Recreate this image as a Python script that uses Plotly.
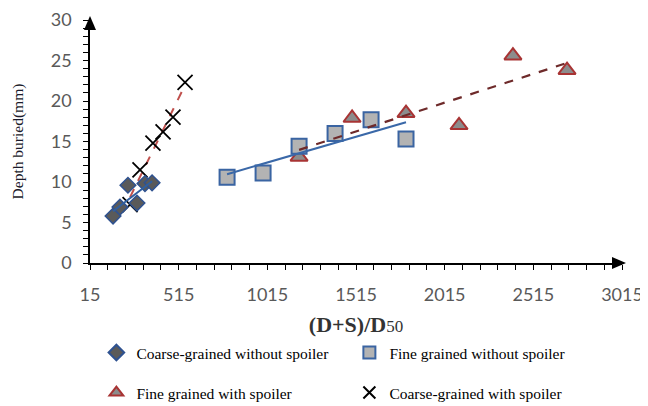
import numpy as np
import plotly.graph_objects as go

# ---- data ----
coarse_no_x = [145, 184, 229, 280, 325, 365]
coarse_no_y = [5.8, 6.9, 9.6, 7.4, 9.8, 9.9]

fine_no_x = [788, 991, 1194, 1397, 1600, 1797]
fine_no_y = [10.6, 11.1, 14.4, 16.0, 17.7, 15.3]

fine_sp_x = [1194, 1493, 1797, 2096, 2400, 2705]
fine_sp_y = [13.1, 17.9, 18.5, 17.0, 25.6, 23.8]

coarse_sp_x = [241, 297, 370, 427, 483, 551]
coarse_sp_y = [7.2, 11.5, 14.8, 16.2, 18.0, 22.3]

x_ticks = [15, 515, 1015, 1515, 2015, 2515, 3015]
y_ticks = [0, 5, 10, 15, 20, 25, 30]

names = ["Coarse-grained without spoiler", "Fine grained without spoiler",
         "Fine grained with spoiler", "Coarse-grained with spoiler"]


def trend(xs, ys):
    k, b = np.polyfit(xs, ys, 1)
    xx = np.array([min(xs), max(xs)])
    return xx, k * xx + b


fig = go.Figure()

# coarse with spoiler trend (below diamonds)
tx, ty = trend(coarse_sp_x, coarse_sp_y)
fig.add_trace(go.Scatter(x=tx, y=ty, mode="lines", showlegend=False,
                         line=dict(color="#C0504D", width=2, dash="dash")))

fig.add_trace(go.Scatter(x=coarse_sp_x, y=coarse_sp_y, mode="markers", name=names[3],
                         legend="legend2", legendrank=2,
                         marker=dict(symbol="x-thin", size=15,
                                     line=dict(color="black", width=1.8), color="black")))
fig.add_trace(go.Scatter(x=fine_sp_x, y=fine_sp_y, mode="markers", name=names[2],
                         legend="legend2", legendrank=1,
                         marker=dict(symbol="triangle-up", size=15, color="#8C8C8C",
                                     line=dict(color="#A83434", width=2))))
fig.add_trace(go.Scatter(x=fine_no_x, y=fine_no_y, mode="markers", name=names[1],
                         legendrank=2,
                         marker=dict(symbol="square", size=15, color="#B3B3B3",
                                     line=dict(color="#3A64A2", width=2))))
fig.add_trace(go.Scatter(x=coarse_no_x, y=coarse_no_y, mode="markers", name=names[0],
                         legendrank=1,
                         marker=dict(symbol="diamond", size=12, color="#5A5A5A",
                                     line=dict(color="#2F5290", width=1.5))))

# other trend lines on top
tx, ty = trend(coarse_no_x, coarse_no_y)
fig.add_trace(go.Scatter(x=tx, y=ty, mode="lines", showlegend=False,
                         line=dict(color="#2F5FA0", width=2)))
tx, ty = trend(fine_no_x, fine_no_y)
fig.add_trace(go.Scatter(x=tx, y=ty, mode="lines", showlegend=False,
                         line=dict(color="#3A68A8", width=2)))
tx, ty = trend(fine_sp_x, fine_sp_y)
fig.add_trace(go.Scatter(x=tx, y=ty, mode="lines", showlegend=False,
                         line=dict(color="#6E2A2A", width=2.2, dash="dash")))

tickfont = dict(family="Lato", size=18, color="#595959")
legfont = dict(family="Liberation Serif", size=15.5, color="black")

fig.update_layout(
    width=640, height=398,
    margin=dict(l=82, r=26, t=12, b=143, autoexpand=False),
    paper_bgcolor="white", plot_bgcolor="white",
    xaxis=dict(range=[15, 3015], tickmode="array", tickvals=x_ticks,
               ticktext=[str(v) for v in x_ticks], showgrid=False, zeroline=False,
               showline=True, linecolor="black", linewidth=1.5,
               ticks="outside", ticklen=5, tickcolor="black", tickwidth=1,
               ticklabelstandoff=10,
               minor=dict(dtick=100, tick0=15, ticks="outside", ticklen=5,
                          tickcolor="black", tickwidth=1, showgrid=False),
               tickfont=tickfont,
               title=dict(text="<b>(D+S)/D</b><span style='font-size:17px'>50</span>",
                          font=dict(family="Liberation Serif", size=22, color="#333333"),
                          standoff=12)),
    yaxis=dict(range=[0, 30], tickmode="array", tickvals=y_ticks,
               showgrid=False, zeroline=False,
               showline=True, linecolor="black", linewidth=1.5,
               ticks="outside", ticklen=5, tickcolor="black", tickwidth=1,
               ticklabelstandoff=8,
               minor=dict(dtick=1, ticks="outside", ticklen=5,
                          tickcolor="black", tickwidth=1, showgrid=False),
               tickfont=tickfont,
               title=dict(text="Depth buried(mm)",
                          font=dict(family="Liberation Serif", size=15.5, color="#1a1a2a"),
                          standoff=23)),
    legend=dict(orientation="h", x=0.012, y=-0.30, xanchor="left", yanchor="top",
                entrywidth=208, font=legfont, itemsizing="constant",
                bgcolor="rgba(0,0,0,0)"),
    legend2=dict(orientation="h", x=0.012, y=-0.465, xanchor="left", yanchor="top",
                 entrywidth=208, font=legfont, itemsizing="constant",
                 bgcolor="rgba(0,0,0,0)"),
    showlegend=True,
)

# arrowheads at the ends of the axes
fig.add_shape(type="path", xref="x domain", yref="y domain", xsizemode="pixel",
              ysizemode="pixel", xanchor=1, yanchor=0,
              path="M -10 -6 L 4 0 L -10 6 Z", fillcolor="black", line=dict(width=0))
fig.add_shape(type="path", xref="x domain", yref="y domain", xsizemode="pixel",
              ysizemode="pixel", xanchor=0, yanchor=1,
              path="M -6 -10 L 0 4 L 6 -10 Z", fillcolor="black", line=dict(width=0))

fig.write_html("out.html")
